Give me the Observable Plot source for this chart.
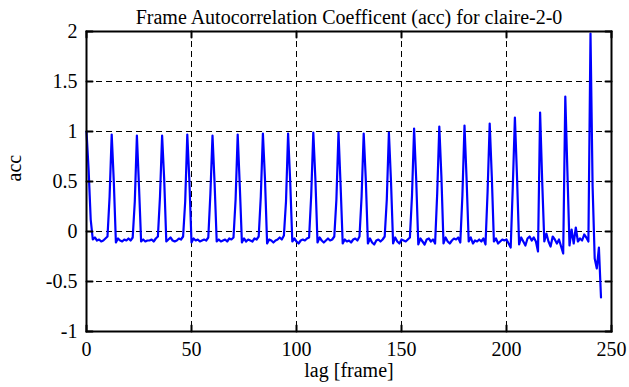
<!DOCTYPE html>
<html>
<head>
<meta charset="utf-8">
<script src="https://cdn.jsdelivr.net/npm/d3@7"></script>
<script src="https://cdn.jsdelivr.net/npm/@observablehq/plot@0.6"></script>
<style>
  html, body { margin: 0; padding: 0; background: #fff; }
  #chart svg { display: block; }
  #chart svg text { font-family: 'Liberation Serif', 'Times New Roman', serif; }
</style>
</head>
<body>
<div id="chart"></div>
<script>
const title = "Frame Autocorrelation Coefficent (acc) for claire-2-0";
const xLabel = "lag [frame]";
const yLabel = "acc";
const xTicks = [0, 50, 100, 150, 200, 250];
const yTicks = [-1, -0.5, 0, 0.5, 1, 1.5, 2];
const xGrid = [50, 100, 150, 200];
const yGrid = [-0.5, 0, 0.5, 1, 1.5];

// acc value for each lag 0..245
const acc = [
  1.00, 0.62, 0.12, -0.08, -0.06, -0.09, -0.08, -0.10, -0.09, -0.07, -0.05, 0.35,
  0.97, 0.50, -0.11, -0.07, -0.09, -0.10, -0.08, -0.09, -0.07, -0.09, -0.06, 0.30,
  0.96, 0.45, -0.10, -0.08, -0.10, -0.09, -0.09, -0.08, -0.10, -0.07, -0.05, 0.35,
  0.96, 0.52, -0.10, -0.08, -0.06, -0.09, -0.10, -0.09, -0.07, -0.08, -0.05, 0.30,
  0.97, 0.50, -0.11, -0.07, -0.09, -0.08, -0.10, -0.09, -0.08, -0.09, -0.06, 0.38,
  0.96, 0.48, -0.10, -0.08, -0.10, -0.09, -0.08, -0.10, -0.07, -0.08, -0.06, 0.32,
  0.97, 0.45, -0.11, -0.07, -0.10, -0.08, -0.09, -0.10, -0.07, -0.08, -0.05, 0.35,
  0.98, 0.52, -0.12, -0.08, -0.09, -0.11, -0.09, -0.08, -0.06, -0.08, -0.04, 0.30,
  0.98, 0.50, -0.10, -0.07, -0.10, -0.12, -0.09, -0.08, -0.09, -0.07, -0.06, 0.36,
  0.99, 0.52, -0.11, -0.06, -0.09, -0.11, -0.09, -0.07, -0.09, -0.08, -0.05, 0.32,
  0.99, 0.46, -0.12, -0.08, -0.10, -0.09, -0.11, -0.08, -0.07, -0.09, -0.05, 0.35,
  0.98, 0.52, -0.12, -0.07, -0.11, -0.13, -0.09, -0.08, -0.10, -0.08, -0.05, 0.32,
  0.99, 0.50, -0.12, -0.06, -0.10, -0.12, -0.08, -0.09, -0.10, -0.08, -0.06, 0.36,
  1.03, 0.52, -0.13, -0.07, -0.10, -0.13, -0.08, -0.07, -0.10, -0.08, -0.12, 0.38,
  1.05, 0.55, -0.12, -0.06, -0.10, -0.12, -0.09, -0.07, -0.08, -0.06, -0.11, 0.36,
  1.06, 0.52, -0.10, -0.06, -0.12, -0.09, -0.10, -0.08, -0.10, -0.07, -0.13, 0.40,
  1.08, 0.55, -0.10, -0.07, -0.12, -0.10, -0.08, -0.09, -0.08, -0.12, -0.16, 0.45,
  1.14, 0.55, -0.13, -0.06, -0.10, -0.14, -0.07, -0.05, -0.09, -0.06, -0.10, -0.20,
  1.19, 0.50, -0.10, -0.02, -0.10, -0.15, -0.05, -0.08, -0.12, -0.08, -0.15, -0.22,
  1.35, 0.60, -0.14, 0.02, -0.12, 0.04, -0.10, -0.07, -0.09, -0.03, -0.06, -0.10,
  1.98, 0.45, -0.27, -0.37, -0.16, -0.66
];
const data = acc.map((v, i) => ({lag: i, acc: v}));

const tickShape = {draw(context, l) { context.moveTo(0, 0); context.lineTo(0, -l); }};
const font = "'Liberation Serif', 'Times New Roman', serif";

const chart = Plot.plot({
  width: 629,
  height: 387,
  marginLeft: 86,
  marginRight: 18,
  marginTop: 31,
  marginBottom: 56,
  style: {fontFamily: font, fontSize: "20px", color: "black", background: "white"},
  x: {domain: [0, 250]},
  y: {domain: [-1, 2]},
  marks: [
    Plot.gridX(xGrid, {stroke: "black", strokeOpacity: 1, strokeWidth: 1, strokeDasharray: "6,4", shapeRendering: "crispEdges"}),
    Plot.gridY(yGrid, {stroke: "black", strokeOpacity: 1, strokeWidth: 1, strokeDasharray: "6,4", shapeRendering: "crispEdges"}),
    Plot.line(data, {x: "lag", y: "acc", stroke: "#0000ff", strokeWidth: 2.2}),
    Plot.vector(xTicks, {x: d => d, frameAnchor: "bottom", length: 6, rotate: 0, anchor: "start", shape: tickShape, stroke: "black", strokeWidth: 2}),
    Plot.vector(xTicks, {x: d => d, frameAnchor: "top", length: 6, rotate: 180, anchor: "start", shape: tickShape, stroke: "black", strokeWidth: 2}),
    Plot.vector(yTicks, {y: d => d, frameAnchor: "left", length: 6, rotate: 90, anchor: "start", shape: tickShape, stroke: "black", strokeWidth: 2}),
    Plot.vector(yTicks, {y: d => d, frameAnchor: "right", length: 6, rotate: -90, anchor: "start", shape: tickShape, stroke: "black", strokeWidth: 2}),
    Plot.frame({stroke: "black", strokeWidth: 2}),
    Plot.axisX(xTicks, {tickSize: 0, tickPadding: 10, tickFormat: d => String(d), fontSize: 20, fontFamily: font, label: null}),
    Plot.axisY(yTicks, {tickSize: 0, tickPadding: 9, tickFormat: d => String(d), fontSize: 20, fontFamily: font, label: null}),
    Plot.text([title], {frameAnchor: "top", dy: -22, fontSize: 20, fontFamily: font, fill: "black"}),
    Plot.text([xLabel], {frameAnchor: "bottom", dy: 45, fontSize: 20, fontFamily: font, fill: "black"}),
    Plot.text([yLabel], {frameAnchor: "left", dx: -72, rotate: -90, fontSize: 20, fontFamily: font, fill: "black"})
  ]
});
document.getElementById("chart").appendChild(chart);
</script>
</body>
</html>
